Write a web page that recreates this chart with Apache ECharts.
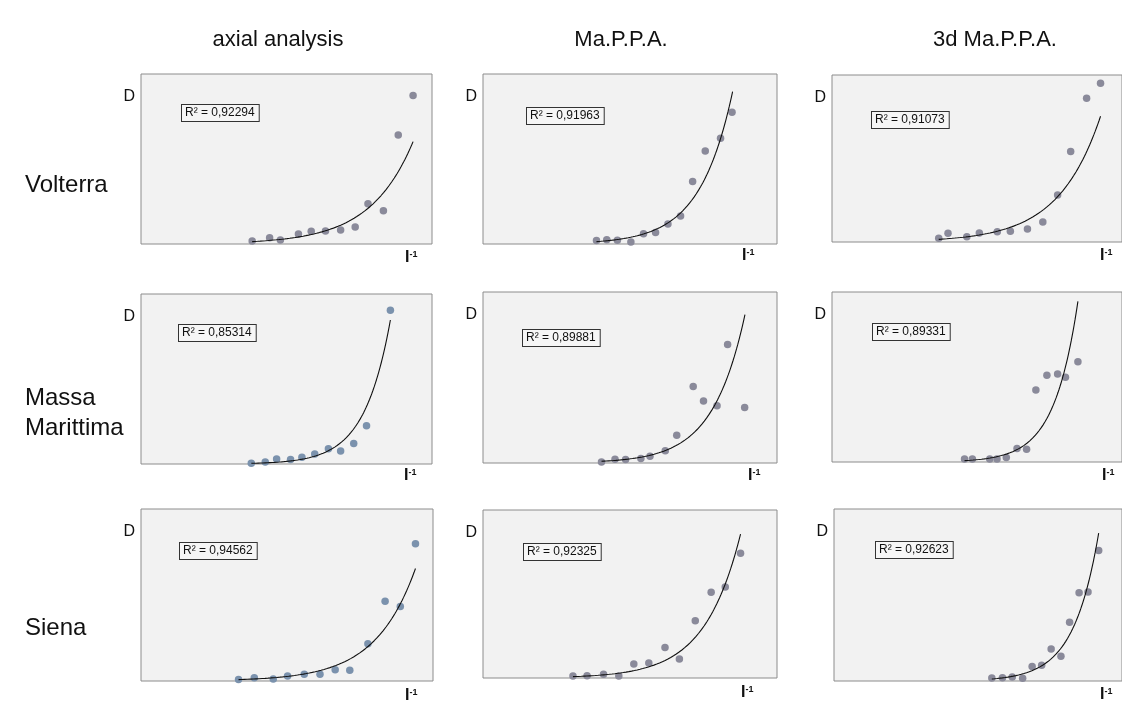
<!DOCTYPE html>
<html><head><meta charset="utf-8">
<script src="https://cdn.jsdelivr.net/npm/echarts@6/dist/echarts.min.js"></script>
<style>html,body{margin:0;padding:0;background:#fff}#c{width:1122px;height:702px}</style>
</head><body><div id="c"></div>
<script>
// ---- text ----
const columnTitles = ['axial analysis', 'Ma.P.P.A.', '3d Ma.P.P.A.'];
const rowTitles = ['Volterra', 'Massa\nMarittima', 'Siena'];
const r2Values = ['0,92294', '0,91963', '0,91073', '0,85314', '0,89881', '0,89331', '0,94562', '0,92325', '0,92623'];
const yAxisName = 'D';

// ---- data (I^-1 on x, D on y; axes unlabelled, relative units 0..100) ----
const volterraAxialX = [38.2, 44.2, 47.9, 54.1, 58.5, 63.4, 68.6, 73.6, 78.0, 83.3, 88.4, 93.5];
const volterraAxialY = [1.8, 3.7, 2.4, 5.9, 7.5, 7.6, 8.2, 10.0, 23.7, 19.6, 64.1, 87.3];
const volterraMappaX = [38.6, 42.1, 45.7, 50.3, 54.6, 58.7, 62.9, 67.2, 71.3, 75.6, 80.8, 84.7];
const volterraMappaY = [2.0, 2.5, 2.2, 1.2, 6.1, 6.7, 11.8, 16.5, 36.7, 54.7, 62.2, 77.5];
const volterra3dX = [36.8, 40.0, 46.5, 50.8, 57.0, 61.5, 67.4, 72.7, 77.8, 82.3, 87.8, 92.6];
const volterra3dY = [2.2, 5.2, 3.2, 5.4, 6.2, 6.4, 7.8, 12.0, 28.1, 54.2, 86.1, 95.0];
const massaAxialX = [37.9, 42.7, 46.6, 51.4, 55.3, 59.7, 64.4, 68.6, 73.1, 77.5, 85.7];
const massaAxialY = [0.4, 1.2, 2.9, 2.7, 3.9, 5.9, 9.0, 7.6, 12.0, 22.5, 90.4];
const massaMappaX = [40.3, 44.9, 48.5, 53.7, 56.8, 62.0, 65.9, 71.5, 75.0, 79.6, 83.2, 89.0];
const massaMappaY = [0.6, 2.2, 2.0, 2.7, 3.9, 7.2, 16.2, 44.8, 36.2, 33.5, 69.3, 32.5];
const massa3dX = [45.7, 48.4, 54.4, 56.9, 60.1, 63.8, 67.1, 70.3, 74.1, 77.8, 80.5, 84.8];
const massa3dY = [1.8, 1.8, 1.8, 1.8, 2.7, 8.0, 7.5, 42.4, 51.0, 51.8, 49.8, 59.0];
const sienaAxialX = [33.4, 38.8, 45.3, 50.2, 55.9, 61.3, 66.5, 71.5, 77.7, 83.6, 88.8, 94.0];
const sienaAxialY = [0.8, 1.9, 1.2, 2.9, 3.9, 3.9, 6.6, 6.2, 21.7, 46.4, 43.3, 79.8];
const sienaMappaX = [30.6, 35.4, 41.0, 46.2, 51.3, 56.4, 61.9, 66.8, 72.2, 77.6, 82.4, 87.6];
const sienaMappaY = [1.2, 1.4, 2.2, 1.2, 8.3, 8.9, 18.2, 11.3, 34.1, 51.1, 54.1, 74.3];
const siena3dX = [54.8, 58.5, 61.9, 65.5, 68.8, 72.1, 75.4, 78.8, 81.8, 85.1, 88.2, 91.9];
const siena3dY = [1.7, 1.9, 2.3, 1.6, 8.5, 9.1, 18.6, 14.4, 34.2, 51.3, 51.8, 75.9];

// exponential fit curves (D = a·e^(b·x)), read as start and end of each drawn curve
const fitStart = [[38.2, 1.4], [38.6, 1.4], [36.8, 1.6], [37.9, 0.4], [40.3, 1.0], [45.7, 0.8], [33.4, 0.8], [30.6, 0.8], [54.8, 1.2]];
const fitEnd = [[93.5, 60.2], [84.9, 89.6], [92.6, 75.3], [85.7, 84.7], [89.1, 86.7], [84.8, 94.5], [94.0, 65.4], [87.6, 85.7], [91.9, 86.0]];

const panelX = [volterraAxialX, volterraMappaX, volterra3dX, massaAxialX, massaMappaX, massa3dX, sienaAxialX, sienaMappaX, siena3dX];
const panelY = [volterraAxialY, volterraMappaY, volterra3dY, massaAxialY, massaMappaY, massa3dY, sienaAxialY, sienaMappaY, siena3dY];

// ---- layout (pixels) ----
const grids = [
  {left: 141, top: 74, width: 291, height: 170},
  {left: 483, top: 74, width: 294, height: 170},
  {left: 832, top: 75, width: 293, height: 167},
  {left: 141, top: 294, width: 291, height: 170},
  {left: 483, top: 292, width: 294, height: 171},
  {left: 832, top: 292, width: 293, height: 170},
  {left: 141, top: 509, width: 292, height: 172},
  {left: 483, top: 510, width: 294, height: 168},
  {left: 834, top: 509, width: 291, height: 172}
];
const r2Pos = [[182, 105], [527, 108], [872, 112], [179, 325], [523, 330], [873, 324], [180, 543], [524, 544], [876, 542]];
const xNamePos = [[405, 258], [742, 256], [1100, 256], [404, 476], [748, 476], [1102, 476], [405, 696], [741, 693], [1100, 695]];
const colTitlePos = [[278, 40], [621, 40], [995, 40]];
const rowTitlePos = [[25, 185], [25, 413], [25, 628]];
const pointColors = ['#8a8a9a', '#8a8a9a', '#8a8a9a', '#7b92ad', '#8a8a9a', '#8a8a9a', '#7b92ad', '#8a8a9a', '#8a8a9a'];
const FONT = '"Liberation Sans", Arial, Helvetica, sans-serif';

const chart = echarts.init(document.getElementById('c'), null, {renderer: 'canvas'});

const option = {
  animation: false,
  backgroundColor: '#ffffff',
  grid: [], xAxis: [], yAxis: [], series: [], graphic: []
};

for (let i = 0; i < 9; i++) {
  const g = grids[i];
  option.grid.push({left: g.left, top: g.top, width: g.width, height: g.height, show: true,
    backgroundColor: '#f2f2f2', borderColor: '#8c8c8c', borderWidth: 1, containLabel: false});
  const hidden = {show: true, axisLine: {show: false}, axisTick: {show: false}, axisLabel: {show: false}, splitLine: {show: false}};
  option.xAxis.push(Object.assign({type: 'value', gridIndex: i, min: 0, max: 100}, hidden));
  option.yAxis.push(Object.assign({type: 'value', gridIndex: i, min: 0, max: 100}, hidden));

  const pts = panelX[i].map((x, k) => [x, panelY[i][k]]);
  option.series.push({type: 'scatter', xAxisIndex: i, yAxisIndex: i, data: pts, symbolSize: 7.5,
    itemStyle: {color: pointColors[i], opacity: 1}, z: 2, silent: true});

  const [x0, y0] = fitStart[i], [x1, y1] = fitEnd[i];
  const b = Math.log(y1 / y0) / (x1 - x0);
  const curve = [];
  const n = 120;
  for (let k = 0; k <= n; k++) {
    const x = x0 + (x1 - x0) * k / n;
    curve.push([x, y0 * Math.exp(b * (x - x0))]);
  }
  option.series.push({type: 'line', xAxisIndex: i, yAxisIndex: i, data: curve, showSymbol: false, symbol: 'none',
    lineStyle: {color: '#111111', width: 1.1}, z: 3, silent: true});

  // D label
  option.graphic.push({type: 'text', x: g.left - 6, y: g.top + 23, silent: true,
    style: {text: yAxisName, fontSize: 16, fontFamily: FONT, fill: '#111', align: 'right', verticalAlign: 'middle'}});
  // I^-1 label
  option.graphic.push({type: 'text', x: xNamePos[i][0], y: xNamePos[i][1], silent: true,
    style: {text: '{i|I}{s|-1}', align: 'left', verticalAlign: 'middle',
      rich: {i: {fontSize: 16, fontWeight: 'bold', fontFamily: FONT, fill: '#111', lineHeight: 16},
             s: {fontSize: 9, fontWeight: 'bold', fontFamily: FONT, fill: '#111', verticalAlign: 'top', lineHeight: 9}}}});
  // R² box
  option.graphic.push({type: 'text', x: r2Pos[i][0], y: r2Pos[i][1], silent: true, z: 10,
    style: {text: 'R\u00b2 = ' + r2Values[i], fontSize: 12, fontFamily: FONT, fill: '#111',
      backgroundColor: '#f6f6f6', borderColor: '#333', borderWidth: 1, padding: [2, 4, 2, 3],
      align: 'left', verticalAlign: 'top'}});
}

columnTitles.forEach((t, c) => {
  option.graphic.push({type: 'text', x: colTitlePos[c][0], y: colTitlePos[c][1], silent: true,
    style: {text: t, fontSize: 22, fontFamily: FONT, fill: '#111', align: 'center', verticalAlign: 'middle'}});
});
rowTitles.forEach((t, r) => {
  option.graphic.push({type: 'text', x: rowTitlePos[r][0], y: rowTitlePos[r][1], silent: true,
    style: {text: t, fontSize: 24, lineHeight: 30, fontFamily: FONT, fill: '#111', align: 'left', verticalAlign: 'middle'}});
});

chart.setOption(option);
</script></body></html>
